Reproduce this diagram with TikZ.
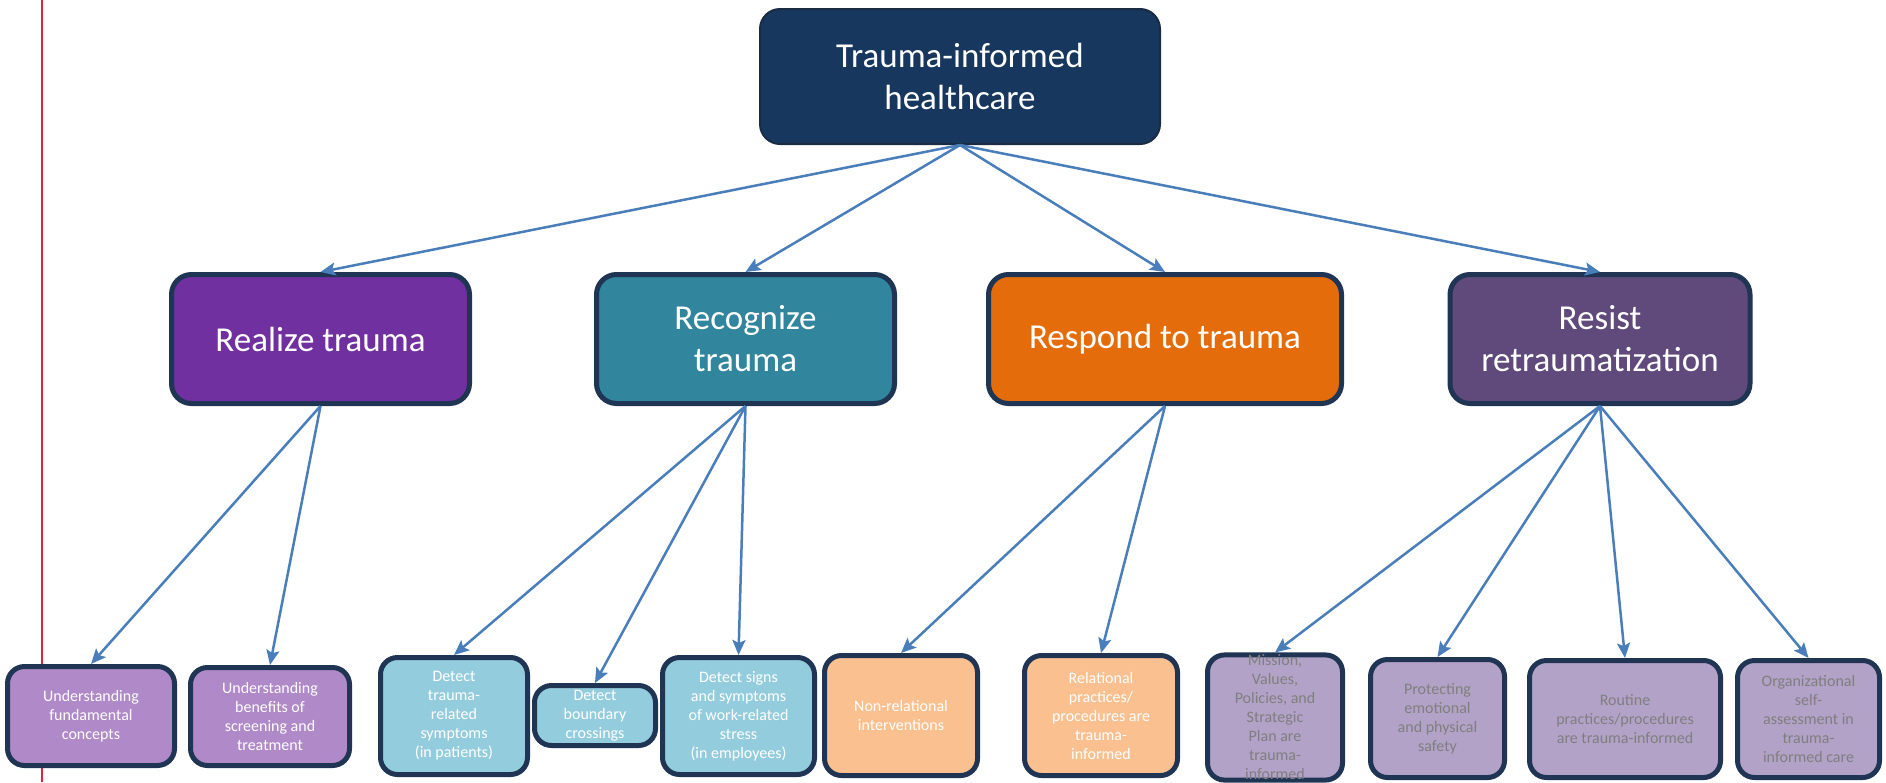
\documentclass[tikz,border=0pt]{standalone}
\usepackage{fontspec}
\setmainfont{Carlito}
\usetikzlibrary{arrows.meta}
\definecolor{topfill}{HTML}{17375E}
\definecolor{topborder}{HTML}{1A2C44}
\definecolor{bord}{HTML}{1F3553}
\definecolor{realizec}{HTML}{7030A0}
\definecolor{recognizec}{HTML}{31859C}
\definecolor{respondc}{HTML}{E46C0A}
\definecolor{resistc}{HTML}{604A7B}
\definecolor{realizel}{HTML}{B089C8}
\definecolor{recognizel}{HTML}{93CDDD}
\definecolor{respondl}{HTML}{FAC090}
\definecolor{resistl}{HTML}{B2A2C7}
\definecolor{arrowc}{HTML}{4A7EBB}
\definecolor{graytext}{HTML}{7F7F7F}
\definecolor{redline}{HTML}{E0243C}
\begin{document}
\begin{tikzpicture}[x=1pt,y=-1pt,
  topbox/.style={rounded corners=20pt, draw=topborder, line width=2pt, fill=topfill, text=white,
    font=\fontsize{35}{42}\selectfont, align=center, minimum width=400pt, minimum height=135pt, inner sep=0pt},
  midbox/.style={rounded corners=20pt, draw=bord, line width=5pt, text=white,
    font=\fontsize{35}{42}\selectfont, align=center, minimum height=129pt, inner sep=0pt},
  lowbox/.style={rounded corners=17pt, draw=bord, line width=5pt,
    font=\fontsize{16}{19}\selectfont, align=center, inner sep=0pt},
  arr/.style={draw=arrowc, line width=2.5pt, -{Stealth[length=15pt,width=13pt,inset=3pt]}}
]
\useasboundingbox (0,0) rectangle (1886,782);
\fill[white] (0,0) rectangle (1886,782);
\coordinate (rtop) at (42,0);
\coordinate (rbot) at (42,782);
\draw[redline, line width=2pt] (rtop) -- (rbot);

\node[topbox] (top) at (960,76.5) {Trauma-informed\\healthcare};

\node[midbox, fill=realizec, minimum width=298pt] (realize) at (320.5,339) {Realize trauma};
\node[midbox, fill=recognizec, minimum width=298pt] (recognize) at (745.5,339) {Recognize\\trauma};
\node[midbox, fill=respondc, minimum width=353pt] (respond) at (1165,339) {Respond to trauma};
\node[midbox, fill=resistc, minimum width=300pt] (resist) at (1600,339) {Resist\\retraumatization};

\node[lowbox, fill=realizel, text=white, minimum width=167pt, minimum height=99pt] (b1) at (91,716) {Understanding\\fundamental\\concepts};
\node[lowbox, fill=realizel, text=white, minimum width=159pt, minimum height=98pt] (b2) at (270,716.5) {Understanding\\benefits of\\screening and\\treatment};
\node[lowbox, fill=recognizel, text=white, minimum width=147pt, minimum height=117pt] (b3) at (454,716) {Detect\\trauma-\\related\\symptoms\\(in patients)};
\node[lowbox, fill=recognizel, text=white, minimum width=121pt, minimum height=60pt] (b4) at (595,715.5) {Detect\\boundary\\crossings};
\node[lowbox, fill=recognizel, text=white, minimum width=152pt, minimum height=117pt] (b5) at (738.5,716) {Detect signs\\and symptoms\\of work-related\\stress\\(in employees)};
\node[lowbox, fill=respondl, text=white, minimum width=153pt, minimum height=120pt] (b6) at (901,715.5) {Non-relational\\interventions};
\node[lowbox, fill=respondl, text=white, minimum width=153pt, minimum height=120pt] (b7) at (1101,715.5) {Relational\\practices/\\procedures are\\trauma-\\informed};
\node[lowbox, fill=resistl, text=graytext, minimum width=135pt, minimum height=120pt] (b8) at (1275,717.5) {Mission,\\Values,\\Policies, and\\Strategic\\Plan are\\trauma-\\informed};
\node[lowbox, fill=resistl, text=graytext, minimum width=134pt, minimum height=118pt] (b9) at (1437.5,718.5) {Protecting\\emotional\\and physical\\safety};
\node[lowbox, fill=resistl, text=graytext, minimum width=191pt, minimum height=117pt] (b10) at (1625,719) {Routine\\practices/procedures\\are trauma-informed};
\node[lowbox, fill=resistl, text=graytext, minimum width=142pt, minimum height=117pt] (b11) at (1808.5,719) {Organizational\\self-\\assessment in\\trauma-\\informed care};

\foreach \c in {realize,recognize,respond,resist}
  \draw[arr] (top.south) -- (\c.north);
\foreach \c in {b1,b2}
  \draw[arr] (realize.south) -- (\c.north);
\foreach \c in {b3,b4,b5}
  \draw[arr] (recognize.south) -- (\c.north);
\foreach \c in {b6,b7}
  \draw[arr] (respond.south) -- (\c.north);
\foreach \c in {b8,b9,b10,b11}
  \draw[arr] (resist.south) -- (\c.north);
\end{tikzpicture}
\end{document}
